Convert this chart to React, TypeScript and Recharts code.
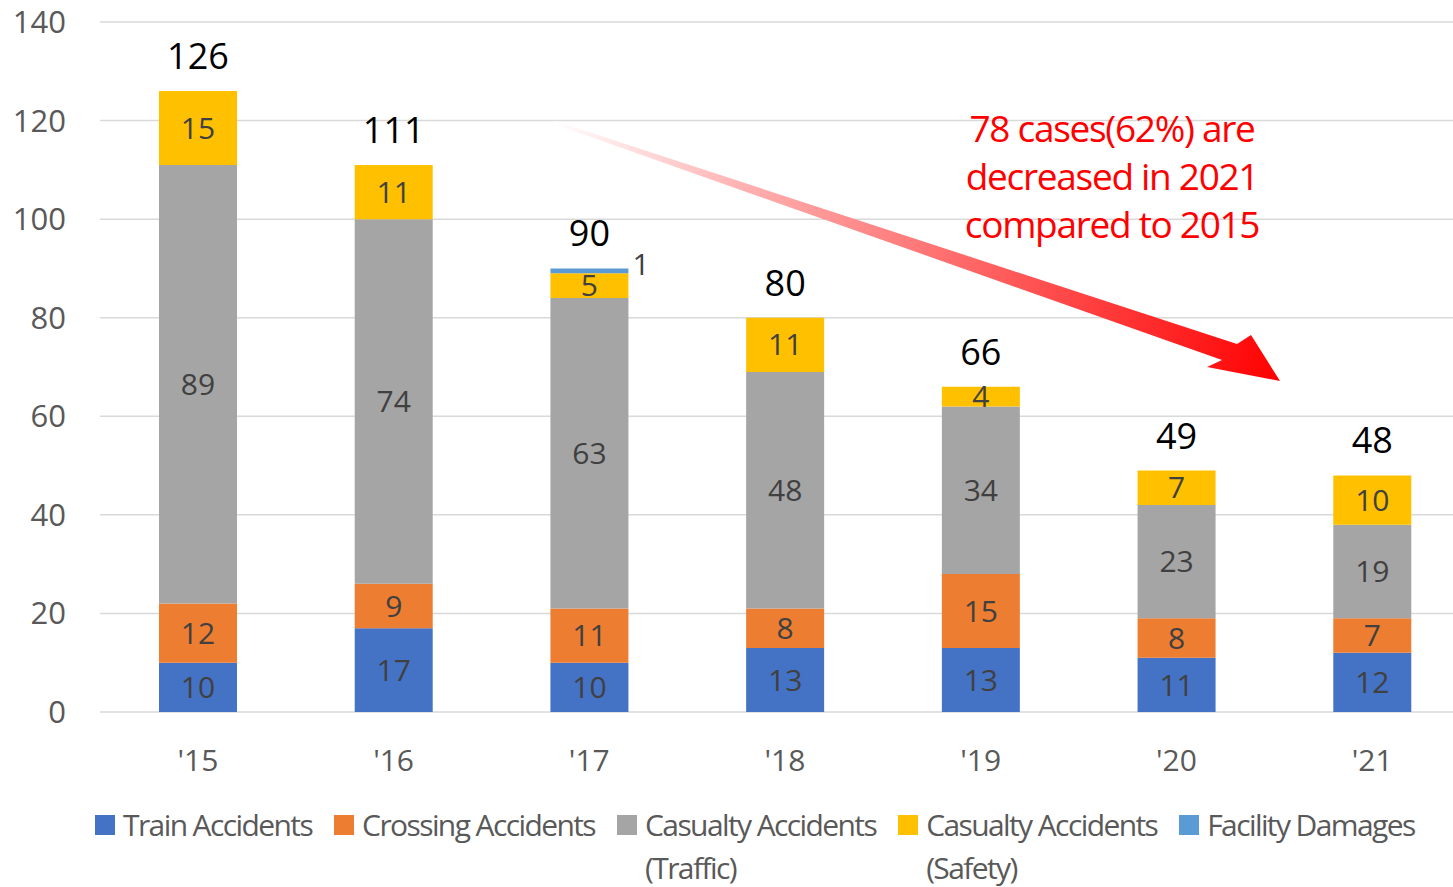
import React from 'react';
import { BarChart, Bar, XAxis, YAxis, CartesianGrid, LabelList } from 'recharts';

const years = ["'15", "'16", "'17", "'18", "'19", "'20", "'21"];
const trainAccidents = [10, 17, 10, 13, 13, 11, 12];
const crossingAccidents = [12, 9, 11, 8, 15, 8, 7];
const casualtyTraffic = [89, 74, 63, 48, 34, 23, 19];
const casualtySafety = [15, 11, 5, 11, 4, 7, 10];
const facilityDamages = [0, 0, 1, 0, 0, 0, 0];
const yTicks = [0, 20, 40, 60, 80, 100, 120, 140];

const seriesNames = ['Train Accidents', 'Crossing Accidents', 'Casualty Accidents (Traffic)', 'Casualty Accidents (Safety)', 'Facility Damages'];
const seriesKeys = ['train', 'crossing', 'traffic', 'safety', 'facility'];
const seriesColors = ['#4472C4', '#ED7D31', '#A5A5A5', '#FFC000', '#5B9BD5'];
const annotationLines = ['78 cases(62%) are', 'decreased in 2021', 'compared to 2015'];

const data = years.map((y, i) => ({
  year: y,
  train: trainAccidents[i],
  crossing: crossingAccidents[i],
  traffic: casualtyTraffic[i],
  safety: casualtySafety[i],
  facility: facilityDamages[i],
  total: trainAccidents[i] + crossingAccidents[i] + casualtyTraffic[i] + casualtySafety[i] + facilityDamages[i],
}));

const FONT = '"Open Sans", "Noto Sans", sans-serif';

// Drawn from the Safety bar (always non-zero); lifts by the Facility segment height if present.
const TotalLabel = (props: any) => {
  const { x, y, width, height, index, value } = props;
  if (x == null || y == null) return null;
  const d = data[index];
  const pxPerUnit = value ? height / value : 0;
  const top = y - d.facility * pxPerUnit;
  return (
    <text x={x + width / 2} y={top - 22} textAnchor="middle" fill="#000" fontSize={36} fontFamily={FONT}>
      {d.total}
    </text>
  );
};

const FacilityLabel = (props: any) => {
  const { x, y, width, height, value } = props;
  if (!value) return null;
  return (
    <text x={x + width + 4} y={y + height / 2 + 4} textAnchor="start" fill="#404040" fontSize={30} fontFamily={FONT}>
      {value}
    </text>
  );
};

export default function App() {
  return (
    <div style={{ position: 'absolute', left: 0, top: 0, width: 1453, height: 887, overflow: 'hidden', background: '#fff', fontFamily: FONT }}>
      <BarChart width={1480} height={887} data={data} margin={{ top: 22, right: 10, left: 0, bottom: 115 }} barSize={78}>
        <CartesianGrid vertical={false} stroke="#D9D9D9" strokeWidth={1.5} />
        <XAxis dataKey="year" axisLine={false} tickLine={false} tickSize={0} tickMargin={38} height={60}
          tick={{ fill: '#595959', fontSize: 30, fontFamily: FONT }} />
        <YAxis domain={[0, 140]} ticks={yTicks} axisLine={false} tickLine={false} tickSize={0} tickMargin={34} width={100}
          tick={{ fill: '#595959', fontSize: 31, fontFamily: FONT }} interval={0} />
        {seriesKeys.map((k, si) => (
          <Bar key={k} dataKey={k} name={seriesNames[si]} stackId="a" fill={seriesColors[si]} isAnimationActive={false}>
            {si < 4 && (
              <LabelList dataKey={k} position="center" fill="#404040" fontSize={30} fontFamily={FONT} />
            )}
            {si === 3 && <LabelList dataKey={k} content={<TotalLabel />} />}
            {si === 4 && <LabelList dataKey={k} content={<FacilityLabel />} />}
          </Bar>
        ))}
      </BarChart>
      <svg width={1453} height={887} style={{ position: 'absolute', left: 0, top: 0, pointerEvents: 'none' }}>
        <defs>
          <linearGradient id="arrowGrad" x1="555" y1="122" x2="1280" y2="381" gradientUnits="userSpaceOnUse">
            <stop offset="0" stopColor="#FFFFFF" />
            <stop offset="0.25" stopColor="#FFB3B3" />
            <stop offset="1" stopColor="#FF0000" />
          </linearGradient>
        </defs>
        <polygon points="555,121 1237,344 1251,335 1280,381 1207,367 1222,360 554,124" fill="url(#arrowGrad)" />
        {annotationLines.map((t, i) => (
          <text key={i} x={1112} y={142 + i * 48} textAnchor="middle" fill="#FF0000" fontSize={37} letterSpacing={-1.3} fontFamily={FONT}>
            {t}
          </text>
        ))}
      </svg>
      <div style={{ position: 'absolute', top: 803, left: 95, display: 'flex', alignItems: 'flex-start', color: '#595959', fontSize: 30, letterSpacing: -1.6, lineHeight: '43px', fontFamily: FONT }}>
        {seriesNames.map((n, i) => {
          const idx = n.indexOf(' (');
          const lines = idx >= 0 ? [n.slice(0, idx), n.slice(idx + 1)] : [n];
          return (
            <div key={n} style={{ display: 'flex', alignItems: 'flex-start', marginRight: 22 }}>
              <div style={{ width: 20, height: 20, background: seriesColors[i], marginTop: 12, marginRight: 8 }} />
              <div>
                {lines.map((l) => (
                  <div key={l} style={{ whiteSpace: 'nowrap' }}>{l}</div>
                ))}
              </div>
            </div>
          );
        })}
      </div>
    </div>
  );
}
